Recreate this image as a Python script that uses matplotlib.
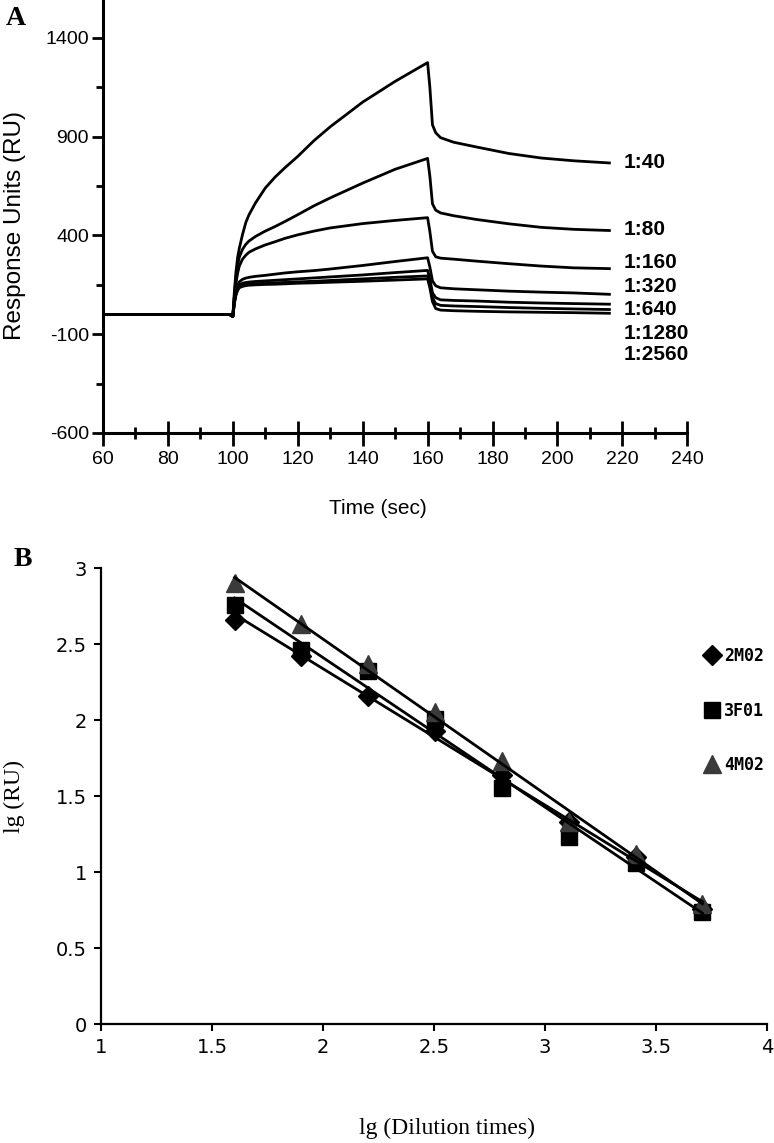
import numpy as np
import matplotlib
matplotlib.use("Agg")
import matplotlib.pyplot as plt
from matplotlib.ticker import MultipleLocator

plt.rcParams["axes.unicode_minus"] = False

# panel A: sensorgram, response units for each dilution
time_s = [60, 99, 100, 100.5, 101, 101.5, 102, 103, 104, 105, 107, 110, 113, 116,
          120, 125, 130, 140, 150, 160, 160.7, 161.5, 162.5, 164, 168, 175, 185,
          195, 205, 216]
ru_40 = [0, 0, -10, 120, 220, 290, 335, 405, 465, 505, 565, 640, 695, 742, 800,
         880, 950, 1075, 1180, 1275, 1150, 960, 920, 895, 872, 848, 815, 792, 778, 767]
ru_80 = [0, 0, -10, 100, 190, 250, 290, 330, 355, 372, 395, 422, 445, 470, 505,
         550, 590, 665, 735, 790, 700, 560, 528, 514, 500, 481, 459, 441, 431, 425]
ru_160 = [0, 0, -10, 90, 160, 210, 245, 280, 300, 315, 332, 352, 368, 385, 403,
          422, 438, 460, 476, 490, 420, 320, 292, 285, 280, 270, 257, 245, 236, 232]
ru_320 = [0, 0, -10, 70, 120, 150, 165, 178, 184, 188, 193, 198, 204, 210, 216,
          222, 230, 248, 268, 287, 240, 170, 145, 135, 130, 125, 118, 113, 109, 102]
ru_640 = [0, 0, -10, 65, 110, 135, 148, 158, 162, 164, 167, 170, 173, 176, 180,
          185, 190, 200, 212, 223, 180, 110, 85, 74, 71, 68, 62, 58, 55, 52]
ru_1280 = [0, 0, -10, 60, 105, 128, 140, 148, 152, 154, 156, 158, 160, 162, 165,
           168, 172, 180, 188, 195, 150, 85, 55, 46, 43, 40, 35, 31, 28, 25]
ru_2560 = [0, 0, -10, 58, 100, 122, 135, 142, 146, 148, 150, 152, 153, 155, 158,
           160, 163, 168, 174, 180, 135, 65, 30, 22, 19, 16, 13, 11, 9, 6]
dilution_labels = ["1:40", "1:80", "1:160", "1:320", "1:640", "1:1280", "1:2560"]

# panel B: lg(RU) vs lg(dilution)
lg_dilution = [1.602, 1.903, 2.204, 2.505, 2.806, 3.107, 3.408, 3.709]
lg_2m02 = [2.66, 2.42, 2.16, 1.93, 1.64, 1.33, 1.10, 0.76]
lg_3f01 = [2.76, 2.46, 2.32, 2.01, 1.55, 1.23, 1.06, 0.74]
lg_4m02 = [2.90, 2.63, 2.37, 2.05, 1.73, 1.33, 1.12, 0.79]
series_names = ["2M02", "3F01", "4M02"]

sans = ["Liberation Sans", "DejaVu Sans"]

fig = plt.figure(figsize=(7.74, 11.43), dpi=100)

# ---- A ----
ax = fig.add_axes([0.133, 0.6212, 0.755, 0.3788])
curves = [ru_40, ru_80, ru_160, ru_320, ru_640, ru_1280, ru_2560]
for c in curves:
    ax.plot(time_s, c, color="black", lw=2.0, solid_joinstyle="round")

label_y = [767, 428, 261, 139, 23, -94, -205]
for lab, ly in zip(dilution_labels, label_y):
    ax.text(220.3, ly, lab, fontsize=15, fontweight="bold", family=sans,
            va="center", ha="left")

ax.set_xlim(60, 240)
ax.set_ylim(-600, 1592)
ax.xaxis.set_major_locator(MultipleLocator(20))
ax.xaxis.set_minor_locator(MultipleLocator(10))
ax.set_yticks([-600, -100, 400, 900, 1400])
ax.set_yticks([-350, 150, 650, 1150], minor=True)
for s in ["top", "right"]:
    ax.spines[s].set_visible(False)
for s in ["left", "bottom"]:
    ax.spines[s].set_linewidth(2.2)
ax.tick_params(axis="x", which="major", direction="inout", length=18, width=2, pad=4)
ax.tick_params(axis="x", which="minor", direction="inout", length=9, width=2)
ax.tick_params(axis="y", which="major", direction="out", length=8, width=2, pad=2)
ax.tick_params(axis="y", which="minor", direction="out", length=5, width=2)
for t in ax.get_xticklabels() + ax.get_yticklabels():
    t.set_family(sans)
    t.set_fontsize(14)
ax.set_xlabel("Time (sec)", family=sans, fontsize=15)
ax.xaxis.set_label_coords(0.47, -0.152)
ax.set_ylabel("Response Units (RU)", family=sans, fontsize=17.5)
ax.yaxis.set_label_coords(-0.132, 0.48)
fig.text(0.008, 0.978, "A", family="Liberation Serif", fontweight="bold", fontsize=20)

# ---- B ----
bx = fig.add_axes([0.1305, 0.104, 0.8605, 0.399])
markers = [("D", 10, "black"), ("s", 12, "black"), ("^", 13, "#3a3a3a")]
ys = [lg_2m02, lg_3f01, lg_4m02]
for name, y, (m, ms, col) in zip(series_names, ys, markers):
    k, b = np.polyfit(lg_dilution, y, 1)
    xx = np.array([lg_dilution[0], lg_dilution[-1]])
    bx.plot(xx, k * xx + b, color="black", lw=2.0, zorder=3)
    bx.plot(lg_dilution, y, ls="none", marker=m, ms=ms, color=col,
            mec=col, label=name, zorder=2)

bx.set_xlim(1, 4)
bx.set_ylim(0, 3)
bx.set_xticks([1, 1.5, 2, 2.5, 3, 3.5, 4])
bx.set_xticklabels(["1", "1.5", "2", "2.5", "3", "3.5", "4"])
bx.set_yticks([0, 0.5, 1, 1.5, 2, 2.5, 3])
bx.set_yticklabels(["0", "0.5", "1", "1.5", "2", "2.5", "3"])
for s in ["top", "right"]:
    bx.spines[s].set_visible(False)
for s in ["left", "bottom"]:
    bx.spines[s].set_linewidth(1.6)
bx.tick_params(direction="out", length=5, width=1.5, labelsize=14, pad=5)
bx.set_xlabel("lg (Dilution times)", family="Liberation Serif", fontsize=17)
bx.xaxis.set_label_coords(0.52, -0.205)
bx.set_ylabel("lg (RU)", family="Liberation Serif", fontsize=17)
bx.yaxis.set_label_coords(-0.114, 0.50)
leg = bx.legend(loc="upper left", bbox_to_anchor=(0.88, 0.86), frameon=False,
                handletextpad=0.1, labelspacing=2.2, handlelength=1.2,
                prop={"family": "DejaVu Sans Mono", "size": 12, "weight": "bold"})
fig.text(0.018, 0.505, "B", family="Liberation Serif", fontweight="bold", fontsize=20)

fig.savefig("out.png", dpi=100)
